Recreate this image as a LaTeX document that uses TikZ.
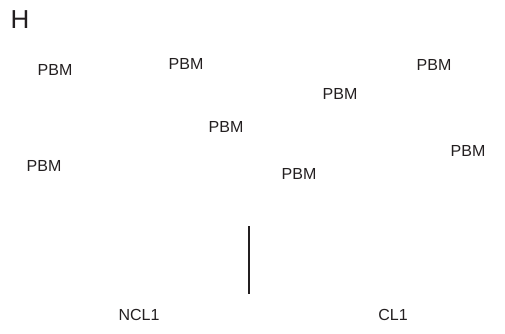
\documentclass[tikz,border=0pt]{standalone}
\usepackage{fontspec}
\setmainfont{Liberation Sans}
\usepackage{xcolor}
\definecolor{inkdark}{HTML}{231F20}

\begin{document}
\begin{tikzpicture}[x=1pt,y=1pt]
				\tikzstyle{every node}+=[inner sep=0pt]
				\tikzset{lbl/.style={font=\fontsize{16}{18}\selectfont, text=inkdark}}
				\useasboundingbox (0,0) rectangle (505,-333);
				\node [font=\fontsize{26}{30}\selectfont, text=inkdark] (panel) at (20,-19.5) {H};
				\node [lbl] (pbma) at (55,-70) {PBM};
				\node [lbl] (pbmb) at (186,-64) {PBM};
				\node [lbl] (pbmc) at (226,-127) {PBM};
				\node [lbl] (pbmd) at (44,-166) {PBM};
				\node [lbl] (pbme) at (434,-64.5) {PBM};
				\node [lbl] (pbmf) at (340,-93.5) {PBM};
				\node [lbl] (pbmg) at (468,-150.5) {PBM};
				\node [lbl] (pbmh) at (299,-173.5) {PBM};
				\node [lbl] (ncl) at (139,-315) {NCL1};
				\node [lbl] (cl) at (393,-315) {CL1};
				\coordinate (bartop) at (249,-226);
				\coordinate (barbot) at (249,-294);
				\draw [inkdark, line width=2pt] (bartop) -- (barbot);
\end{tikzpicture}
\end{document}
